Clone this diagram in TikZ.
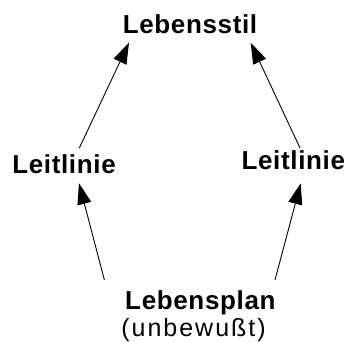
\documentclass[tikz,border=0pt]{standalone}
\usepackage{fontspec}
\setmainfont{Liberation Sans}
\usetikzlibrary{arrows.meta,calc}
\newfontfamily\headfont[LetterSpace=2.5]{Liberation Sans Bold}
\newfontfamily\notefont[LetterSpace=8]{Liberation Sans}
\tikzset{
  term/.style={anchor=base,inner sep=0pt,font=\headfont\fontsize{26}{30}\selectfont},
  remark/.style={anchor=base,inner sep=0pt,font=\notefont\fontsize{25}{29}\selectfont},
  link/.style={line width=0.9pt,-{Triangle[length=21pt,width=14pt]}}
}
\begin{document}
\begin{tikzpicture}[x=1pt,y=-1pt]
  \useasboundingbox (0,0) rectangle (347,342);
  % the four stages, bottom to top
  \node[term] (stil)  at (190,33.3)  {Lebensstil};
  \node[term] (leitL) at (64,173.3)  {Leitlinie};
  \node[term] (leitR) at (293.3,169.3) {Leitlinie};
  \node[term] (plan)  at (200.4,309) {Lebensplan};
  \node[remark] (unbew) at (193.5,336) {(unbewußt)};
  % connectors
  \draw[link] ($(plan.base)+(-96,-29)$)  -- ($(leitL.base)+(15,10)$);
  \draw[link] ($(plan.base)+(74.6,-29)$) -- ($(leitR.base)+(7.4,14)$);
  \draw[link] ($(leitL.base)+(15.3,-25.3)$) -- ($(stil.base)+(-61,9.4)$);
  \draw[link] ($(leitR.base)+(6.7,-21.3)$)  -- ($(stil.base)+(60.7,9.4)$);
\end{tikzpicture}
\end{document}
